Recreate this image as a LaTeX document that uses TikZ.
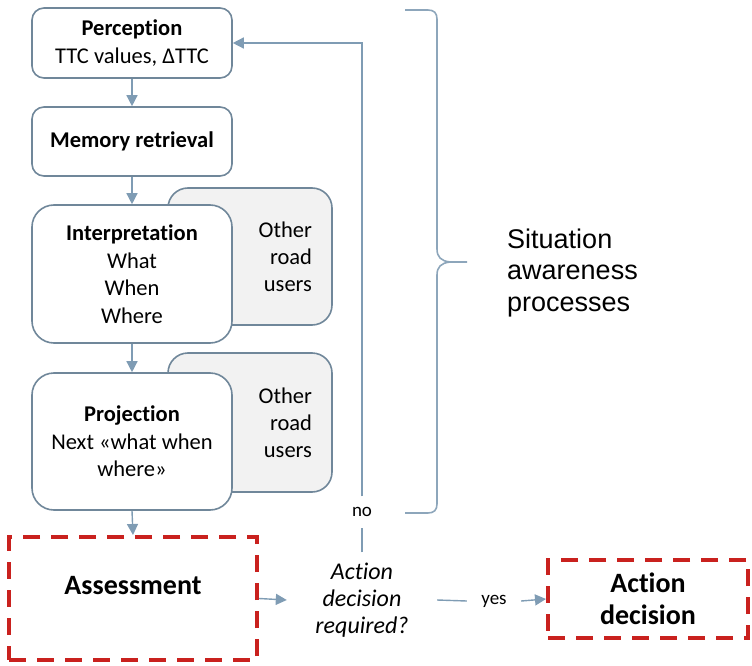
\documentclass[tikz,border=0pt]{standalone}
\usepackage{fontspec}
\setmainfont{Carlito}[Ligatures=NoCommon]
\newfontfamily\arialfont{Liberation Sans}
\usetikzlibrary{arrows.meta}
\definecolor{boxline}{HTML}{70879A}
\definecolor{flow}{HTML}{7F9CB4}
\definecolor{bracecol}{HTML}{8DA6BB}
\definecolor{othfill}{HTML}{F2F2F2}
\definecolor{dashred}{HTML}{C9211E}

\begin{document}
\begin{tikzpicture}[x=1pt,y=-1pt,
  procbox/.style={draw=boxline, line width=1.6pt, fill=white, rounded corners=12pt,
    minimum width=200pt, align=center, inner sep=0pt,
    font=\fontsize{22.5}{27.5}\selectfont},
  otherbox/.style={draw=boxline, line width=1.6pt, fill=othfill, rounded corners=20pt,
    minimum width=164pt, text width=124pt, inner xsep=20pt, align=right,
    font=\fontsize{22.5}{27}\selectfont},
  redbox/.style={draw=dashred, line width=4pt, dash pattern=on 17pt off 11pt,
    fill=white, inner sep=0pt, align=center, font=\bfseries\fontsize{28}{32}\selectfont},
  plainlabel/.style={fill=white, inner sep=0pt, align=center},
  flowline/.style={draw=flow, line width=1.4pt},
  flowarrow/.style={flowline, -{Triangle[length=11pt,width=11pt]}},
]
\useasboundingbox (0,0) rectangle (752,666);

% other road users (behind the process boxes)
\node[otherbox, minimum height=137pt] (oth1) at (250,256.5) {Other\\road\\users};
\node[otherbox, minimum height=139pt] (oth2) at (250,422.5) {Other\\road\\users};

% situation awareness process chain
\node[procbox, minimum height=70pt] (perc) at (132,43)
  {\textbf{Perception}\\TTC values, ΔTTC};
\node[procbox, minimum height=69pt] (mem) at (132,141.5)
  {\textbf{Memory retrieval}};
\node[procbox, minimum height=138pt, rounded corners=22pt] (interp) at (132,274)
  {\textbf{Interpretation}\\What\\When\\Where};
\node[procbox, minimum height=137pt, rounded corners=22pt] (proj) at (132,441.5)
  {\textbf{Projection}\\Next «what when\\where»};

% assessment and decision
\node[redbox, minimum width=248pt, minimum height=123pt] (assess) at (133,598.5)
  {\raisebox{4.5pt}[0pt][0pt]{Assessment}};
\node[plainlabel, minimum width=150pt, minimum height=95pt,
  font=\itshape\fontsize{24}{27}\selectfont] (dec) at (362,600)
  {Action\\decision\\required?};
\node[plainlabel, minimum width=44pt, minimum height=31pt,
  font=\fontsize{19}{22}\selectfont] (nolab) at (362,512) {no};
\node[plainlabel, minimum width=54pt, minimum height=31pt,
  font=\fontsize{19}{22}\selectfont] (yeslab) at (494,601) {yes};
\node[redbox, minimum width=200pt, minimum height=78pt] (act) at (648,599)
  {Action\\decision};

% connectors
\draw[flowarrow] (perc) -- (mem);
\draw[flowarrow] (mem) -- (interp);
\draw[flowarrow] (interp) -- (proj);
\draw[flowarrow] (proj.south) -- (assess.north);
\draw[flowarrow] (assess.east) -- (dec.west);
\draw[flowline] (dec.north) -- (nolab.south);
\draw[flowarrow] (nolab.north) |- (perc.east);
\draw[flowline] (dec.east) -- (yeslab.west);
\draw[flowarrow] (yeslab.east) -- (act.west);

% brace grouping the awareness processes
\draw[draw=bracecol, line width=1.6pt]
  (405,10) -- (428,10) .. controls (434,10) and (437,13) .. (437,19)
  -- (437,249) .. controls (437,257) and (441,261) .. (450,262) -- (467,262)
  (450,262) .. controls (441,263) and (437,267) .. (437,275)
  -- (437,504) .. controls (437,510) and (434,513) .. (428,513) -- (405,513);
\node[anchor=west, align=left, inner sep=0pt,
  font=\arialfont\fontsize{27}{31.5}\selectfont] (sa) at (507,273)
  {Situation\\awareness\\processes};
\end{tikzpicture}
\end{document}
